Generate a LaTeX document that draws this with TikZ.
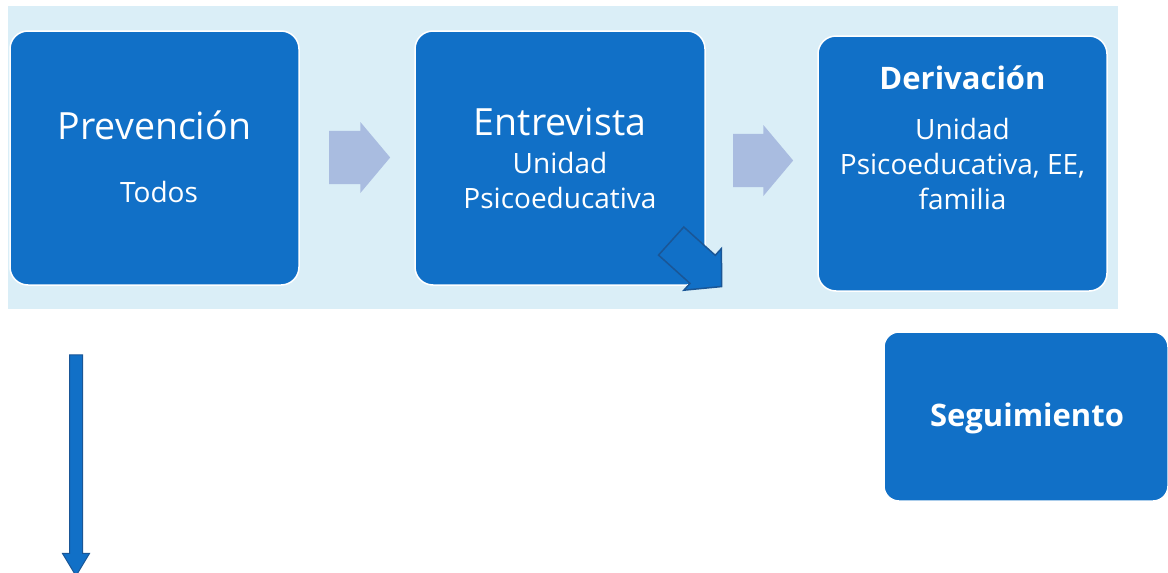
\documentclass[tikz,border=0pt]{standalone}
\usepackage{fontspec}
\setmainfont{Open Sans}
\usepackage{tikz}
\usetikzlibrary{shapes.arrows}

\definecolor{boxblue}{HTML}{1170C7}
\definecolor{bgblue}{HTML}{DAEEF7}
\definecolor{paleblue}{HTML}{A9BCE0}
\definecolor{darkblue}{HTML}{1A5696}

\tikzset{
    stepbox/.style={rounded corners=18pt, fill=boxblue, draw=white, line width=1.5pt,
        text=white, align=center, inner sep=0pt},
    flowarrow/.style={single arrow, fill=paleblue, draw=none, inner sep=0pt}
}

\begin{document}
\begin{tikzpicture}[x=1pt,y=-1pt]
        \useasboundingbox (0,0) rectangle (1168,573);
        \fill[bgblue] (8,6) rectangle (1118,309);

        \node[stepbox, minimum width=289pt, minimum height=254pt] (prev) at (154.5,158) {};
        \node[stepbox, minimum width=290pt, minimum height=254pt] (entr) at (560,158) {};
        \node[stepbox, minimum width=289pt, minimum height=255pt] (deri) at (962.5,163.5) {};
        \node[stepbox, minimum width=284pt, minimum height=169pt, rounded corners=15pt] (segu) at (1026,416.5) {};

        \node[text=white, font=\fontsize{37.5}{37.5}\selectfont] (prevt) at (154.5,125) {Prevención};
        \node[text=white, font=\fontsize{28}{28}\selectfont] (prevs) at (159,192) {Todos};

        \node[text=white, font=\fontsize{37.5}{37.5}\selectfont] (entrt) at (560,122) {Entrevista};
        \node[text=white, font=\fontsize{28}{35}\selectfont, align=center] (entrs) at (560,180) {Unidad\\Psicoeducativa};

        \node[text=white, font=\bfseries\fontsize{31}{31}\selectfont] (derit) at (962.5,78) {Derivación};
        \node[text=white, font=\fontsize{28}{35}\selectfont, align=center] (deris) at (962.5,164) {Unidad\\Psicoeducativa, EE,\\familia};

        \node[text=white, font=\bfseries\fontsize{31}{31}\selectfont] (segut) at (1027,418) {Seguimiento};

        % arrows between the steps
        \node[flowarrow, minimum height=61pt, minimum width=71pt, text width=0pt, inner ysep=21pt,
            single arrow tip angle=100] (arra) at (348.5,157.5) {};
        \node[flowarrow, minimum height=60pt, minimum width=71pt, text width=0pt, inner ysep=21pt,
            single arrow tip angle=100] (arrb) at (752,160.5) {};

        \node[single arrow, fill=boxblue, draw=darkblue, line width=1.5pt, rotate=-42,
            minimum height=68pt, minimum width=56pt, text width=0pt, inner ysep=14pt,
            single arrow tip angle=95] (diag) at (690,258) {};

        \node[single arrow, fill=boxblue, draw=darkblue, line width=1pt, rotate=-90,
            minimum height=221pt, minimum width=24pt, text width=0pt, inner ysep=6pt,
            single arrow tip angle=62] (down) at (76,460) {};
    \end{tikzpicture}
\end{document}
